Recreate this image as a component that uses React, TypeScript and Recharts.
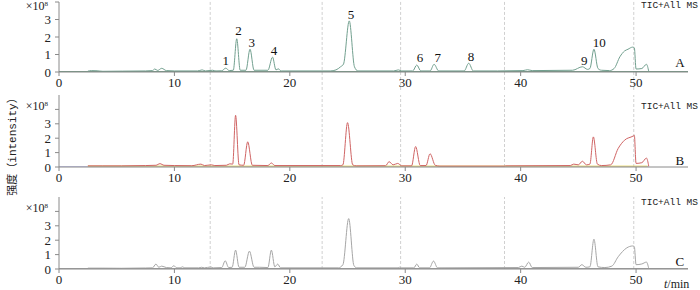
import React from 'react';
import { LineChart, Line, XAxis, YAxis, ReferenceLine, ReferenceDot } from 'recharts';

// time axis (min) and intensity ticks (x10^8)
const xTicks = [0, 10, 20, 30, 40, 50];
const yTicks = [0, 1, 2, 3, 4];
const gridTimes = [13.1, 22.8, 29.6, 38.6, 49.8];

// [t, intensity]
const ticA = [
  [2.5, 0.05], [2.8, 0.08], [3.3, 0.07], [3.8, 0.04], [5.5, 0.05], [7.5, 0.06], [8.1, 0.08], [8.3, 0.17],
  [8.55, 0.09], [8.9, 0.21], [9.3, 0.08], [10, 0.06], [12.0, 0.06], [12.4, 0.12], [12.7, 0.06], [13.3, 0.1],
  [13.6, 0.06], [14.1, 0.07], [14.45, 0.22], [14.75, 0.08], [15.1, 0.1], [15.4, 1.9], [15.7, 0.1], [16.2, 0.1],
  [16.55, 1.3], [16.9, 0.1], [18.1, 0.1], [18.5, 0.85], [18.8, 0.12], [19.0, 0.18], [19.25, 0.06], [23.5, 0.06],
  [24.0, 0.12], [24.4, 0.3], [24.65, 0.45], [25.15, 2.92], [25.6, 0.3], [25.9, 0.06], [29.0, 0.06], [29.4, 0.12],
  [29.7, 0.06], [30.65, 0.06], [31.0, 0.4], [31.35, 0.06], [32.15, 0.06], [32.5, 0.44], [32.9, 0.06], [35.1, 0.06],
  [35.5, 0.5], [35.9, 0.06], [38, 0.06], [40.2, 0.08], [40.6, 0.13], [41, 0.08], [44.5, 0.1], [45.35, 0.3],
  [45.8, 0.15], [46.0, 0.2], [46.35, 1.3], [46.7, 0.2], [47.0, 0.1], [47.7, 0.08], [48.1, 0.2], [48.6, 0.87],
  [49.0, 1.2], [49.3, 1.3], [49.7, 1.42], [49.85, 1.38], [50.0, 0.17], [50.5, 0.2], [50.9, 0.44], [51.1, 0.03],
];
const baseA = [[0, 0.01], [54.5, 0.01]];

const ticB = [
  [2.5, 0.08], [3.8, 0.08], [5.4, 0.08], [7.5, 0.1], [8.4, 0.12], [8.75, 0.23], [9.1, 0.12], [10, 0.1],
  [11.5, 0.09], [12.3, 0.2], [12.6, 0.1], [13.2, 0.15], [13.5, 0.1], [14.5, 0.12], [14.8, 0.22], [15.05, 0.2],
  [15.3, 3.59], [15.6, 0.15], [16.0, 0.12], [16.35, 1.75], [16.75, 0.12], [18.1, 0.1], [18.4, 0.28], [18.7, 0.1],
  [24.4, 0.1], [24.6, 0.15], [25.0, 3.08], [25.45, 0.15], [25.75, 0.08], [28.3, 0.09], [28.6, 0.37], [28.95, 0.15],
  [29.35, 0.25], [29.7, 0.08], [30.55, 0.08], [30.9, 1.42], [31.3, 0.1], [31.8, 0.1], [32.15, 0.92], [32.6, 0.12],
  [33.0, 0.06], [38.6, 0.06], [38.7, 0.08], [44.3, 0.1], [44.6, 0.2], [45.0, 0.15], [45.35, 0.4], [45.7, 0.15],
  [46.0, 0.2], [46.3, 2.09], [46.65, 0.2], [47.0, 0.1], [47.8, 0.15], [48.45, 1.29], [49.0, 1.86], [49.75, 2.15],
  [49.85, 2.2], [50.0, 0.25], [50.5, 0.3], [50.9, 0.62], [51.1, 0.05],
];
const yellowB = [[2.5, 0.06], [51.0, 0.06]];
const blueB = [[0, 0], [51.1, 0]];

const ticC = [
  [2.5, 0.06], [3.8, 0.06], [5.4, 0.05], [7.5, 0.07], [8.1, 0.08], [8.4, 0.34], [8.65, 0.12], [8.9, 0.2],
  [9.3, 0.1], [9.7, 0.08], [9.95, 0.23], [10.2, 0.08], [10.5, 0.08], [10.7, 0.15], [10.9, 0.08], [12.1, 0.08],
  [12.35, 0.12], [12.6, 0.08], [13.15, 0.14], [13.4, 0.08], [14.1, 0.1], [14.4, 0.57], [14.7, 0.1], [15.0, 0.12],
  [15.3, 1.31], [15.6, 0.12], [16.1, 0.12], [16.5, 1.24], [16.9, 0.12], [17.4, 0.12], [18.1, 0.1], [18.4, 1.31],
  [18.7, 0.15], [18.95, 0.34], [19.2, 0.08], [24.2, 0.08], [24.6, 0.3], [25.1, 3.5], [25.55, 0.25], [25.8, 0.08],
  [29.3, 0.08], [29.5, 0.12], [29.7, 0.08], [30.75, 0.08], [31.0, 0.34], [31.25, 0.08], [32.1, 0.08], [32.45, 0.55],
  [32.8, 0.08], [39.8, 0.1], [40.1, 0.2], [40.35, 0.12], [40.7, 0.48], [41.0, 0.1], [45.0, 0.12], [45.3, 0.3],
  [45.65, 0.12], [46.0, 0.15], [46.35, 2.07], [46.7, 0.15], [47.3, 0.1], [47.9, 0.2], [48.45, 0.85], [49.2, 1.47],
  [49.7, 1.6], [49.85, 1.55], [50.0, 0.3], [50.5, 0.35], [50.9, 0.48], [51.1, 0.03],
];
const baseC = [[0, 0.02], [54.5, 0.02]];

// peak numbers in panel A: name, t, intensity of label centre
const peakNames = ['1', '2', '3', '4', '5', '6', '7', '8', '9', '10'];
const peakLabelT = [14.44, 15.55, 16.7, 18.63, 25.3, 31.28, 32.82, 35.7, 45.5, 46.8];
const peakLabelV = [0.69, 2.4, 1.67, 1.22, 3.31, 0.84, 0.84, 0.91, 0.69, 1.67];

const toPts = (pairs: number[][]) => pairs.map(([t, v]) => ({ t, v }));

const serif = '"Liberation Serif", "DejaVu Serif", serif';
const mono = '"Liberation Mono", "DejaVu Sans Mono", monospace';
const axisColor = '#8a8a8a';

const makeYTick = (markDy: number) => (props: any) => {
  const { x, y, payload } = props;
  if (payload.value === 4) {
    return (
      <text x={x - 3} y={y + markDy} dy="0.35em" textAnchor="end" fontFamily={serif} fontSize={12} fill="#222">
        ×10<tspan dy={-4} fontSize={7}>8</tspan>
      </text>
    );
  }
  return (
    <text x={x} y={y} dy="0.35em" textAnchor="end" fontFamily={serif} fontSize={13} fill="#222">
      {payload.value}
    </text>
  );
};

type Series = { data: number[][]; color: string; width?: number };

const Panel = ({ top, height, plotTop, yMax, series, letter, letterV, markDy, gridLo, gridHi, children }: any) => (
  <div style={{ position: 'absolute', left: 0, top }}>
    <LineChart width={700} height={height} margin={{ top: plotTop, right: 12, bottom: 0, left: 0 }}>
      <XAxis
        type="number"
        dataKey="t"
        domain={[0, 54.5]}
        ticks={xTicks}
        interval={0}
        allowDataOverflow
        stroke={axisColor}
        tickSize={4}
        tickMargin={2}
        height={height - plotTop - (yMax === 4 ? 70 : 72)}
        tick={{ fill: '#222', fontFamily: serif, fontSize: 13 }}
      />
      <YAxis
        type="number"
        domain={[0, yMax]}
        ticks={yTicks}
        interval={0}
        allowDataOverflow
        width={59}
        stroke={axisColor}
        tickSize={4}
        tickMargin={4}
        tick={makeYTick(markDy)}
      />
      {gridTimes.map((t) => (
        <ReferenceLine
          key={t}
          segment={[{ x: t, y: gridLo }, { x: t, y: gridHi }]}
          ifOverflow="visible"
          stroke="#d0d0d0"
          strokeDasharray="3 2"
        />
      ))}
      {series.map((s: Series, i: number) => (
        <Line
          key={i}
          data={toPts(s.data)}
          dataKey="v"
          type="monotone"
          stroke={s.color}
          strokeWidth={s.width ?? 1}
          dot={false}
          activeDot={false}
          isAnimationActive={false}
        />
      ))}
      <ReferenceDot
        x={53.8}
        y={letterV}
        r={0}
        stroke="none"
        fill="none"
        label={{ value: letter, position: 'center', fill: '#111', fontFamily: serif, fontSize: 13 }}
      />
      {children}
    </LineChart>
  </div>
);

const textBox = (left: number, top: number): React.CSSProperties => ({
  position: 'absolute',
  left,
  top,
  fontFamily: mono,
  fontSize: 9.5,
  color: '#222',
  whiteSpace: 'nowrap',
  lineHeight: '10px',
});

export default function App() {
  return (
    <div style={{ position: 'absolute', left: 0, top: 0, width: 700, height: 290, overflow: 'hidden', background: '#fff' }}>
      <Panel
        top={0}
        height={92}
        plotTop={2}
        yMax={4}
        markDy={4}
        gridLo={-1.31}
        gridHi={4.11}
        letter="A"
        letterV={0.57}
        series={[
          { data: baseA, color: '#2f6b4c' },
          { data: ticA, color: '#72a08f' },
        ]}
      >
        {peakNames.map((n, i) => (
          <ReferenceDot
            key={n}
            x={peakLabelT[i]}
            y={peakLabelV[i]}
            r={0}
            stroke="none"
            fill="none"
            label={{ value: n, position: 'center', fill: '#111', fontFamily: serif, fontSize: 13 }}
          />
        ))}
      </Panel>
      <Panel
        top={93}
        height={96}
        plotTop={2}
        yMax={5}
        markDy={-4}
        gridLo={0}
        gridHi={5}
        letter="B"
        letterV={0.48}
        series={[
          { data: blueB, color: '#8c8cd8' },
          { data: yellowB, color: '#e6d45a' },
          { data: ticB, color: '#d06464' },
        ]}
      />
      <Panel
        top={195}
        height={96}
        plotTop={2}
        yMax={5}
        markDy={-4}
        gridLo={0}
        gridHi={5}
        letter="C"
        letterV={0.55}
        series={[
          { data: baseC, color: '#8a8a8a' },
          { data: ticC, color: '#a6a6a6' },
        ]}
      />
      <div style={textBox(641, 1)}>TIC+All MS</div>
      <div style={textBox(641, 102)}>TIC+All MS</div>
      <div style={textBox(641, 198)}>TIC+All MS</div>
      <div
        style={{
          position: 'absolute',
          left: 11 - 60,
          top: 144 - 7,
          width: 120,
          height: 14,
          lineHeight: '14px',
          textAlign: 'center',
          transform: 'rotate(-90deg)',
          fontFamily: '"Noto Sans CJK SC", ' + mono,
          fontSize: 11,
          color: '#222',
          whiteSpace: 'nowrap',
        }}
      >
        强度<span style={{ fontFamily: '"Noto Sans CJK SC"' }}>（</span>
        <span style={{ fontFamily: mono }}>intensity</span>
        <span style={{ fontFamily: '"Noto Sans CJK SC"' }}>）</span>
      </div>
      <div
        style={{
          position: 'absolute',
          left: 664,
          top: 279,
          fontFamily: serif,
          fontSize: 12,
          lineHeight: '11px',
          color: '#222',
          whiteSpace: 'nowrap',
        }}
      >
        <i>t</i>/min
      </div>
    </div>
  );
}
